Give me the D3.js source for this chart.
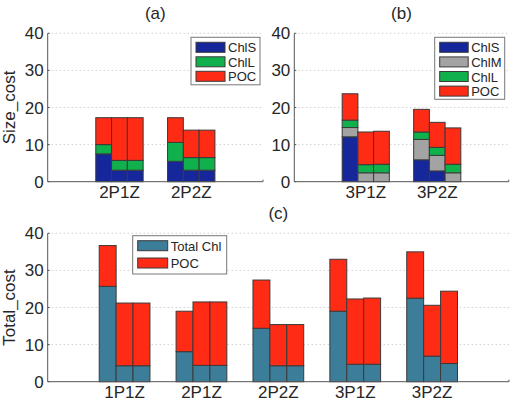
<!DOCTYPE html>
<html>
<head>
<meta charset="utf-8">
<script src="https://cdn.jsdelivr.net/npm/d3@7"></script>
<style>
  body { margin: 0; background: #fff; }
  text { font-family: "Liberation Sans", Arial, sans-serif; fill: #262626; }
</style>
</head>
<body>
<div id="chart"></div>
<script>
// panel (a): two-phytoplankton cases, three bars per case
var catsA = ['2P1Z', '2P2Z'];
var aChlS = [7.5, 3.1, 3.1, 5.5, 3.1, 3.1];
var aChlL = [2.5, 2.65, 2.65, 5.1, 3.4, 3.4];
var aPOC  = [7.25, 11.5, 11.5, 6.65, 7.4, 7.4];

// panel (b): three-phytoplankton cases
var catsB = ['3P1Z', '3P2Z'];
var bChlS = [12.1, 0, 0, 5.9, 2.9, 0];
var bChlM = [2.5, 2.4, 2.4, 5.5, 4.2, 2.4];
var bChlL = [2.0, 2.2, 2.3, 2.0, 2.15, 2.3];
var bPOC  = [7.1, 8.8, 8.9, 6.1, 6.75, 9.8];

// panel (c): total cost
var catsC = ['1P1Z', '2P1Z', '2P2Z', '3P1Z', '3P2Z'];
var cChl = [25.7, 4.3, 4.3, 8.1, 4.4, 4.4, 14.4, 4.3, 4.3, 19.0, 4.7, 4.7, 22.5, 6.9, 4.9];
var cPOC = [11.0, 16.9, 16.9, 10.9, 17.1, 17.1, 13.0, 11.1, 11.1, 14.0, 17.6, 17.85, 12.5, 13.7, 19.5];

var yTicks = [0, 10, 20, 30, 40];

var colors = {
  ChlS: '#16279b', ChlM: '#a3a3a3', ChlL: '#10b04c', POC: '#ff2b14', 'Total Chl': '#3c7d9a'
};

var W = 524, H = 403;
var svg = d3.select('#chart').append('svg')
    .attr('width', W)
    .attr('height', H);

function panel(opts) {
  var g = svg.append('g');
  var x = d3.scaleLinear().domain([0, opts.cats.length + 1]).range([opts.left, opts.right]);
  var y = d3.scaleLinear().domain([0, 40]).range([opts.bottom, opts.top]);
  var bw = 0.22;

  // dotted grid
  g.selectAll('.grid').data(yTicks.slice(1)).enter().append('line')
      .attr('x1', opts.left).attr('x2', opts.right)
      .attr('y1', function(d) { return y(d); }).attr('y2', function(d) { return y(d); })
      .attr('stroke', '#bbb').attr('stroke-width', 1)
      .attr('stroke-dasharray', '1,3');

  // build rows for stacking
  var rows = [];
  opts.cats.forEach(function(c, ci) {
    for (var j = 0; j < 3; j++) {
      var r = { pos: ci + 1 + (j - 1) * bw };
      opts.keys.forEach(function(k) { r[k] = opts.series[k][ci * 3 + j]; });
      rows.push(r);
    }
  });
  var stacked = d3.stack().keys(opts.keys)(rows);

  stacked.forEach(function(layer) {
    g.selectAll(null).data(layer.filter(function(d) { return d[1] - d[0] > 0; })).enter().append('rect')
        .attr('x', function(d) { return x(d.data.pos - bw / 2); })
        .attr('width', function(d) { return x(d.data.pos + bw / 2) - x(d.data.pos - bw / 2); })
        .attr('y', function(d) { return y(d[1]); })
        .attr('height', function(d) { return y(d[0]) - y(d[1]); })
        .attr('fill', colors[layer.key])
        .attr('stroke', '#3a3a3a')
        .attr('stroke-width', 1);
  });

  // axes
  g.append('line')
      .attr('x1', opts.left).attr('x2', opts.left)
      .attr('y1', opts.top).attr('y2', opts.bottom)
      .attr('stroke', '#555');
  g.append('line')
      .attr('x1', opts.left).attr('x2', opts.right)
      .attr('y1', opts.bottom).attr('y2', opts.bottom)
      .attr('stroke', '#555');
  g.append('line')
      .attr('x1', opts.right).attr('x2', opts.right)
      .attr('y1', opts.bottom).attr('y2', opts.bottom - 2)
      .attr('stroke', '#555');

  g.selectAll('.ytick').data(yTicks).enter().append('line')
      .attr('x1', opts.left).attr('x2', opts.left + 2)
      .attr('y1', function(d) { return y(d); }).attr('y2', function(d) { return y(d); })
      .attr('stroke', '#555');

  g.selectAll('.ylab').data(yTicks).enter().append('text')
      .attr('x', opts.left - 4)
      .attr('y', function(d) { return y(d) + 6; })
      .attr('text-anchor', 'end')
      .attr('font-size', '17px')
      .text(function(d) { return d; });

  g.selectAll('.xlab').data(opts.cats).enter().append('text')
      .attr('x', function(d, i) { return x(i + 1); })
      .attr('y', opts.bottom + 16.5)
      .attr('text-anchor', 'middle')
      .attr('font-size', '17px')
      .text(function(d) { return d; });

  g.append('text')
      .attr('x', (opts.left + opts.right) / 2)
      .attr('y', opts.top - 14)
      .attr('text-anchor', 'middle')
      .attr('font-size', '17px')
      .text(opts.title);

  if (opts.ylabel) {
    g.append('text')
        .attr('transform', 'translate(' + 15 + ',' + (opts.top + opts.bottom) / 2 + ') rotate(-90)')
        .attr('text-anchor', 'middle')
        .attr('font-size', '17px')
        .text(opts.ylabel);
  }

  // legend, first series on top
  var L = opts.legend;
  var lg = g.append('g');
  lg.append('rect')
      .attr('x', L.x).attr('y', L.y)
      .attr('width', L.w).attr('height', L.h)
      .attr('fill', '#fff').attr('stroke', '#777');
  opts.keys.forEach(function(k, i) {
    var cy = L.y + 10 + i * L.step;
    lg.append('rect')
        .attr('x', L.x + 5).attr('y', cy - 5)
        .attr('width', L.pw).attr('height', 10)
        .attr('fill', colors[k]).attr('stroke', '#3a3a3a');
    lg.append('text')
        .attr('x', L.x + L.pw + 8).attr('y', cy + 5)
        .attr('font-size', '13px')
        .text(k);
  });
}

panel({
  cats: catsA, keys: ['ChlS', 'ChlL', 'POC'],
  series: { ChlS: aChlS, ChlL: aChlL, POC: aPOC },
  left: 47.7, right: 263, top: 33.3, bottom: 181.7,
  title: '(a)', ylabel: 'Size_cost',
  legend: { x: 191, y: 37.3, w: 69, h: 47.5, step: 14.5, pw: 29 }
});

panel({
  cats: catsB, keys: ['ChlS', 'ChlM', 'ChlL', 'POC'],
  series: { ChlS: bChlS, ChlM: bChlM, ChlL: bChlL, POC: bPOC },
  left: 294.3, right: 508.7, top: 33.3, bottom: 181.7,
  title: '(b)',
  legend: { x: 434.7, y: 37.3, w: 70, h: 62, step: 14.6, pw: 28.5 }
});

panel({
  cats: catsC, keys: ['Total Chl', 'POC'],
  series: { 'Total Chl': cChl, POC: cPOC },
  left: 47.7, right: 509, top: 233.3, bottom: 381.7,
  title: '(c)', ylabel: 'Total_cost',
  legend: { x: 132.7, y: 235.7, w: 94, h: 38.3, step: 17.3, pw: 30 }
});
</script>
</body>
</html>
